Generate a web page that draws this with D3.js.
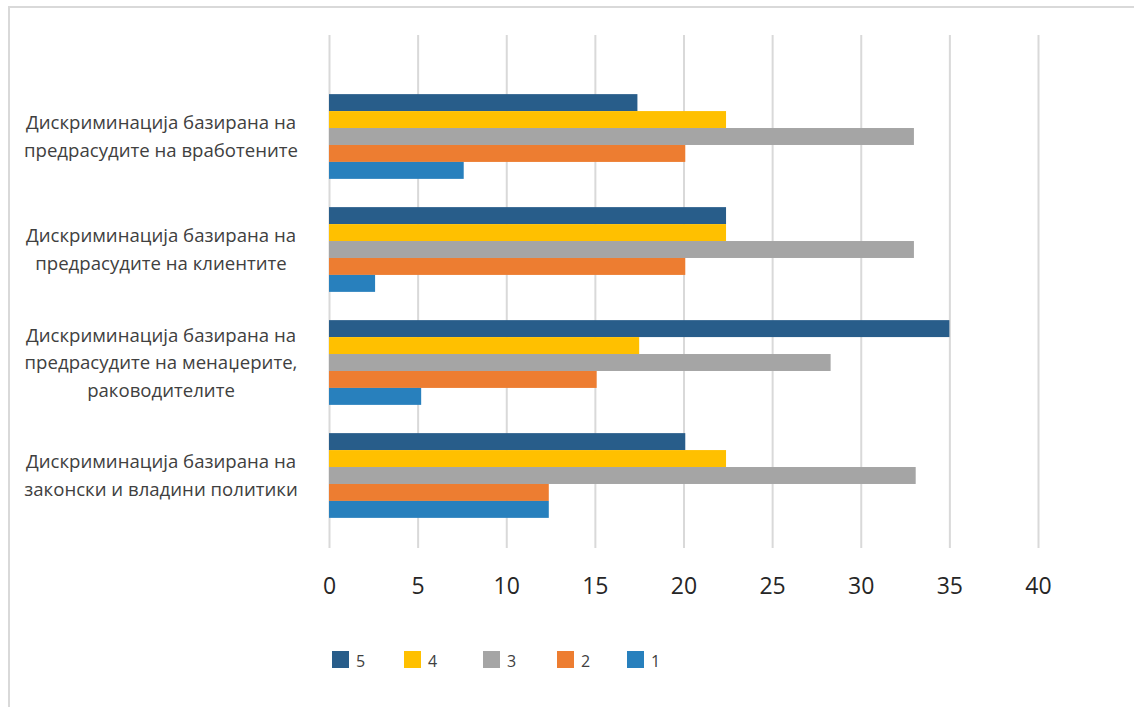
<!DOCTYPE html>
<html>
<head>
<meta charset="utf-8">
<script src="https://cdn.jsdelivr.net/npm/d3@7"></script>
<style>
  html, body { margin: 0; padding: 0; background: #ffffff; }
  svg { display: block; }
</style>
</head>
<body>
<svg id="chart" width="1134" height="707"></svg>
<script>
// Categories (top to bottom) and their wrapped label lines
const categories = [
  "Дискриминација базирана на предрасудите на вработените",
  "Дискриминација базирана на предрасудите на клиентите",
  "Дискриминација базирана на предрасудите на менаџерите, раководителите",
  "Дискриминација базирана на законски и владини политики"
];
const categoryLines = [
  ["Дискриминација базирана на", "предрасудите на вработените"],
  ["Дискриминација базирана на", "предрасудите на клиентите"],
  ["Дискриминација базирана на", "предрасудите на менаџерите,", "раководителите"],
  ["Дискриминација базирана на", "законски и владини политики"]
];

// Series, in the order they are stacked inside each group (top to bottom)
const seriesNames = ["5", "4", "3", "2", "1"];
const series5 = [17.4, 22.4, 35.0, 20.1];
const series4 = [22.4, 22.4, 17.5, 22.4];
const series3 = [33.0, 33.0, 28.3, 33.1];
const series2 = [20.1, 20.1, 15.1, 12.4];
const series1 = [7.6, 2.6, 5.2, 12.4];
const seriesValues = [series5, series4, series3, series2, series1];
const seriesColors = ["#285d8a", "#ffc000", "#a5a5a5", "#ed7d31", "#2880bd"];

const xTicks = [0, 5, 10, 15, 20, 25, 30, 35, 40];

const svg = d3.select("#chart");

// Outer chart frame
svg.append("rect")
  .attr("x", 9).attr("y", 7)
  .attr("width", 1150).attr("height", 720)
  .attr("fill", "none")
  .attr("stroke", "#d9d9d9")
  .attr("stroke-width", 2);

const plot = { left: 329, right: 1038, top: 35, bottom: 548 };

const x = d3.scaleLinear().domain([0, 40]).range([plot.left, plot.right]);
const y = d3.scaleBand().domain(categories).range([80, 532]).paddingInner(0.25).paddingOuter(0.125);
const ySeries = d3.scaleBand().domain(seriesNames).range([0, y.bandwidth()]);

// Vertical gridlines and tick labels
const axis = d3.axisBottom(x)
  .tickValues(xTicks)
  .tickSizeInner(-(plot.bottom - plot.top))
  .tickSizeOuter(0)
  .tickFormat(d3.format("d"));

const gAxis = svg.append("g")
  .attr("transform", `translate(0,${plot.bottom})`)
  .call(axis);
gAxis.select(".domain").remove();
gAxis.selectAll(".tick line")
  .attr("stroke", "#d9d9d9")
  .attr("stroke-width", 2);
gAxis.selectAll(".tick text")
  .attr("y", 46)
  .attr("dy", 0)
  .attr("fill", "#262626")
  .style("font-family", "'Open Sans', sans-serif")
  .style("font-size", "23px");

// Bars
const gBars = svg.append("g");
seriesNames.forEach((name, si) => {
  gBars.append("g")
    .attr("fill", seriesColors[si])
    .selectAll("rect")
    .data(seriesValues[si])
    .join("rect")
    .attr("x", x(0))
    .attr("y", (d, i) => y(categories[i]) + ySeries(name))
    .attr("width", d => x(d) - x(0))
    .attr("height", ySeries.bandwidth());
});

// Category labels
const lineHeight = 27.5;
const gLabels = svg.append("g")
  .style("font-family", "'Open Sans', sans-serif")
  .style("font-size", "18.6px")
  .attr("fill", "#404040")
  .attr("text-anchor", "middle");
categories.forEach((c, i) => {
  const lines = categoryLines[i];
  const cy = y(c) + y.bandwidth() / 2;
  const t = gLabels.append("text")
    .attr("x", 161)
    .attr("y", cy - (lines.length - 1) * lineHeight / 2);
  lines.forEach((ln, k) => {
    t.append("tspan")
      .attr("x", 161)
      .attr("dy", k === 0 ? "0.35em" : lineHeight)
      .text(ln);
  });
});

// Legend
const legendX = [332, 404, 483, 557, 627];
const gLegend = svg.append("g")
  .style("font-family", "'Open Sans', sans-serif")
  .style("font-size", "16px")
  .attr("fill", "#404040");
seriesNames.forEach((name, si) => {
  const g = gLegend.append("g").attr("transform", `translate(${legendX[si]},651)`);
  g.append("rect").attr("width", 17).attr("height", 17).attr("fill", seriesColors[si]);
  g.append("text").attr("x", 24).attr("y", 9).attr("dy", "0.45em").text(name);
});
</script>
</body>
</html>
